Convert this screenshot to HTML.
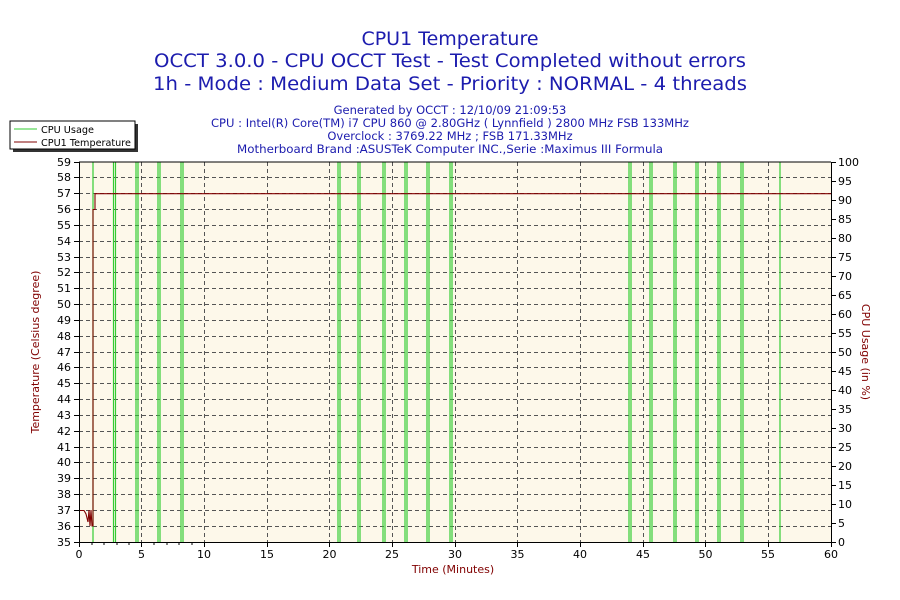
<!DOCTYPE html>
<html><head><meta charset="utf-8"><style>
html,body{margin:0;padding:0;background:#fff;width:900px;height:600px;overflow:hidden}
svg text{font-family:"DejaVu Sans","Liberation Sans",sans-serif}
</style></head><body>
<svg width="900" height="600" xmlns="http://www.w3.org/2000/svg">
<rect x="0" y="0" width="900" height="600" fill="#fff"/>
<g fill="#1c1cae" text-anchor="middle">
<text x="450" y="45" font-size="19">CPU1 Temperature</text>
<text x="450" y="67" font-size="19" textLength="592" lengthAdjust="spacingAndGlyphs">OCCT 3.0.0 - CPU OCCT Test - Test Completed without errors</text>
<text x="450" y="90" font-size="19" textLength="594" lengthAdjust="spacingAndGlyphs">1h - Mode : Medium Data Set - Priority : NORMAL - 4 threads</text>
<text x="450" y="114" font-size="11.5">Generated by OCCT : 12/10/09 21:09:53</text>
<text x="450" y="127" font-size="11.5" textLength="478" lengthAdjust="spacingAndGlyphs">CPU : Intel(R) Core(TM) i7 CPU 860 @ 2.80GHz ( Lynnfield ) 2800 MHz FSB 133MHz</text>
<text x="450" y="140" font-size="11.5">Overclock : 3769.22 MHz ; FSB 171.33MHz</text>
<text x="450" y="153" font-size="11.5" textLength="426" lengthAdjust="spacingAndGlyphs">Motherboard Brand :ASUSTeK Computer INC.,Serie :Maximus III Formula</text>
</g>
<!-- legend -->
<rect x="13" y="124" width="125" height="28" fill="#333"/>
<rect x="10" y="121" width="125" height="28" fill="#fff" stroke="#000" stroke-width="1"/>
<line x1="14" y1="129" x2="37" y2="129" stroke="#33cc33"/>
<line x1="14" y1="142" x2="37" y2="142" stroke="#800000"/>
<text x="41" y="133" font-size="10" fill="#000" textLength="53" lengthAdjust="spacingAndGlyphs">CPU Usage</text>
<text x="41" y="146" font-size="10" fill="#000" textLength="90" lengthAdjust="spacingAndGlyphs">CPU1 Temperature</text>
<!-- plot -->
<rect x="79" y="162" width="752" height="380" fill="#fdf8ea"/>
<path stroke="#555" stroke-width="1" stroke-dasharray="4,3" fill="none" d="
M79 526.5H831M79 510.5H831M79 494.5H831M79 478.5H831M79 462.5H831M79 447.5H831M79 431.5H831M79 415.5H831M79 399.5H831M79 383.5H831M79 367.5H831M79 352.5H831M79 336.5H831M79 320.5H831M79 304.5H831M79 288.5H831M79 272.5H831M79 257.5H831M79 241.5H831M79 225.5H831M79 209.5H831M79 193.5H831M79 177.5H831
M141.5 162V542M204.5 162V542M267.5 162V542M329.5 162V542M392.5 162V542M455.5 162V542M517.5 162V542M580.5 162V542M643.5 162V542M705.5 162V542M768.5 162V542"/>
<!-- CPU usage -->
<path stroke="#33cc33" stroke-width="1.2" fill="none" d="
M93 542V162M113.5 542V162M115.5 542V162M136 542V162M138 542V162M158 542V162M160 542V162M181 542V162M183 542V162
M338 542V162M340 542V162M358 542V162M360 542V162M383 542V162M385 542V162M405 542V162M407 542V162M427 542V162M429 542V162M450 542V162M452 542V162
M629 542V162M631 542V162M650 542V162M652 542V162M674 542V162M676 542V162M696 542V162M698 542V162M718 542V162M720 542V162M741 542V162M743 542V162
M780 542V162"/>
<!-- temperature -->
<path stroke="#800000" stroke-width="1.1" fill="none" d="M79 510.5H84L86 514L88 522L89 510L90 526L91 510L92 526H93V209.5H95V193.7H831"/>
<!-- axes -->
<path stroke="#000" stroke-width="1" fill="none" d="M79.5 162V542.5H831.5V162M79 162H831"/>
<path stroke="#000" fill="none" d="M74 542.5H79M74 526.5H79M74 510.5H79M74 494.5H79M74 478.5H79M74 462.5H79M74 447.5H79M74 431.5H79M74 415.5H79M74 399.5H79M74 383.5H79M74 367.5H79M74 352.5H79M74 336.5H79M74 320.5H79M74 304.5H79M74 288.5H79M74 272.5H79M74 257.5H79M74 241.5H79M74 225.5H79M74 209.5H79M74 193.5H79M74 177.5H79M74 162.5H79
M832 542.5H836M832 523.5H836M832 504.5H836M832 485.5H836M832 466.5H836M832 447.5H836M832 428.5H836M832 409.5H836M832 390.5H836M832 371.5H836M832 352.5H836M832 333.5H836M832 314.5H836M832 295.5H836M832 276.5H836M832 257.5H836M832 238.5H836M832 219.5H836M832 200.5H836M832 181.5H836M832 162.5H836
M79.5 542V547M141.5 542V547M204.5 542V547M267.5 542V547M329.5 542V547M392.5 542V547M455.5 542V547M517.5 542V547M580.5 542V547M643.5 542V547M705.5 542V547M768.5 542V547M831.5 542V547
M92 542V545M104 542V545M117 542V545M129 542V545M154 542V545M167 542V545M179 542V545M192 542V545"/>
<g font-size="11" fill="#000" text-anchor="end">
<text x="71" y="546">35</text><text x="71" y="530">36</text><text x="71" y="514">37</text><text x="71" y="498">38</text><text x="71" y="482">39</text><text x="71" y="466">40</text><text x="71" y="451">41</text><text x="71" y="435">42</text><text x="71" y="419">43</text><text x="71" y="403">44</text><text x="71" y="387">45</text><text x="71" y="371">46</text><text x="71" y="356">47</text><text x="71" y="340">48</text><text x="71" y="324">49</text><text x="71" y="308">50</text><text x="71" y="292">51</text><text x="71" y="276">52</text><text x="71" y="261">53</text><text x="71" y="245">54</text><text x="71" y="229">55</text><text x="71" y="213">56</text><text x="71" y="197">57</text><text x="71" y="181">58</text><text x="71" y="166">59</text>
</g>
<g font-size="11" fill="#000" text-anchor="start">
<text x="838" y="546">0</text><text x="838" y="527">5</text><text x="838" y="508">10</text><text x="838" y="489">15</text><text x="838" y="470">20</text><text x="838" y="451">25</text><text x="838" y="432">30</text><text x="838" y="413">35</text><text x="838" y="394">40</text><text x="838" y="375">45</text><text x="838" y="356">50</text><text x="838" y="337">55</text><text x="838" y="318">60</text><text x="838" y="299">65</text><text x="838" y="280">70</text><text x="838" y="261">75</text><text x="838" y="242">80</text><text x="838" y="223">85</text><text x="838" y="204">90</text><text x="838" y="185">95</text><text x="838" y="166">100</text>
</g>
<g font-size="11" fill="#000" text-anchor="middle">
<text x="79" y="558">0</text><text x="141.5" y="558">5</text><text x="204" y="558">10</text><text x="267" y="558">15</text><text x="329.5" y="558">20</text><text x="392" y="558">25</text><text x="455" y="558">30</text><text x="517.5" y="558">35</text><text x="580" y="558">40</text><text x="643" y="558">45</text><text x="705.5" y="558">50</text><text x="768" y="558">55</text><text x="831" y="558">60</text>
</g>
<text x="453" y="573" font-size="11" fill="#800000" text-anchor="middle">Time (Minutes)</text>
<text transform="translate(39,352) rotate(-90)" font-size="11" fill="#800000" text-anchor="middle">Temperature (Celsius degree)</text>
<text transform="translate(862,352) rotate(90)" font-size="11" fill="#800000" text-anchor="middle">CPU Usage (in %)</text>
</svg>
</body></html>
